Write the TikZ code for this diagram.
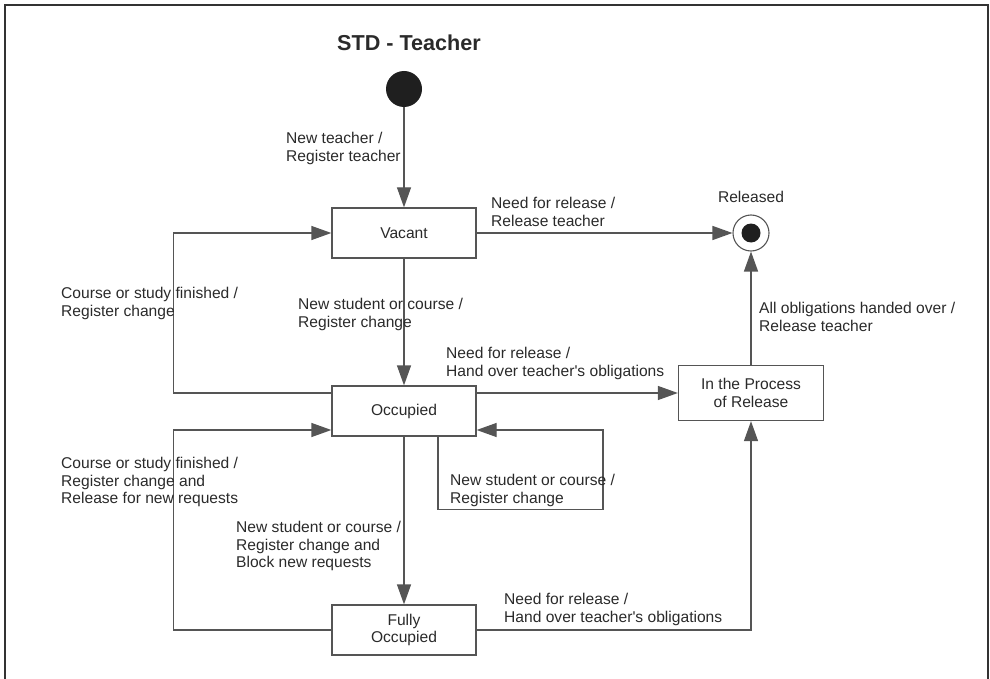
\documentclass[tikz,border=0pt]{standalone}
\usepackage{fontspec}
\setmainfont{Liberation Sans}[Ligatures=TeXOff]
\usetikzlibrary{arrows.meta}
\definecolor{linegray}{HTML}{555555}
\definecolor{txtgray}{HTML}{2A2A2A}
\definecolor{framegray}{HTML}{333333}
\newcommand{\lblfont}{\fontsize{15.6}{17.6}\selectfont}
\tikzset{
  statebox/.style={draw=linegray, line width=1.3pt, fill=white, minimum width=144pt, minimum height=50pt, inner sep=0pt, align=center, font=\lblfont, text=txtgray},
  lbl/.style={anchor=north west, inner sep=0pt, align=left, font=\lblfont, text=txtgray},
  arr/.style={draw=linegray, line width=1.3pt, -{Triangle[length=20pt,width=14pt]}},
  conn/.style={draw=linegray, line width=1.3pt}
}
\begin{document}
\begin{tikzpicture}[x=1pt,y=-1pt]
\useasboundingbox (0,0) rectangle (990,679);
% frame
\draw[framegray, line width=1.5pt] (5,679) -- (5,5) -- (988,5) -- (988,679);
% title
\node[font=\fontsize{21.6}{24}\selectfont\bfseries, text=txtgray] (title) at (409,43) {STD - Teacher};
% states
\node[circle, fill=black!88, minimum size=36pt, inner sep=0pt] (init) at (404,89) {};
\node[statebox] (vac) at (404,233) {Vacant};
\node[statebox] (occ) at (404,411) {Occupied};
\node[statebox] (full) at (404,630) {Fully\\Occupied};
\node[statebox, minimum width=145pt, minimum height=55pt] (proc) at (751,393) {In the Process\\of Release};
\node[circle, draw=linegray, line width=1.1pt, fill=white, minimum size=36pt, inner sep=0pt] (fin) at (751,233) {};
\node[circle, fill=black!88, minimum size=19pt, inner sep=0pt] (finin) at (fin.center) {};
\node[font=\lblfont, text=txtgray] (rel) at (751,197) {Released};
% transitions
\draw[arr] (init) -- (vac);
\draw[arr] (vac.east) -- (fin.west);
\draw[arr] (vac) -- (occ);
\draw[arr] ([yshift=18pt]occ.west) -- ++(-158,0) |- (vac.west);
\draw[arr] (full.west) -- ++(-158,0) |- ([yshift=-19pt]occ.west);
\draw[arr] ([xshift=34pt]occ.south) -- ++(0,73) -- ++(165,0) |- ([yshift=-19pt]occ.east);
\draw[arr] ([yshift=18pt]occ.east) -- (proc.west);
\draw[arr] (proc.north) -- (fin.south);
\draw[arr] (full.east) -| (proc.south);
\draw[arr] (occ) -- (full);
% labels
\node[lbl] (l1) at (286,132) {New teacher /\\Register teacher};
\node[lbl] (l2) at (491,197) {Need for release /\\Release teacher};
\node[lbl] (l3) at (61,287) {Course or study finished /\\Register change};
\node[lbl] (l4) at (298,298) {New student or course /\\Register change};
\node[lbl] (l5) at (446,347) {Need for release /\\Hand over teacher's obligations};
\node[lbl] (l6) at (759,302) {All obligations handed over /\\Release teacher};
\node[lbl] (l7) at (61,457) {Course or study finished /\\Register change and\\Release for new requests};
\node[lbl] (l8) at (450,474) {New student or course /\\Register change};
\node[lbl] (l9) at (236,521) {New student or course /\\Register change and\\Block new requests};
\node[lbl] (l10) at (504,593) {Need for release /\\Hand over teacher's obligations};
\end{tikzpicture}
\end{document}
